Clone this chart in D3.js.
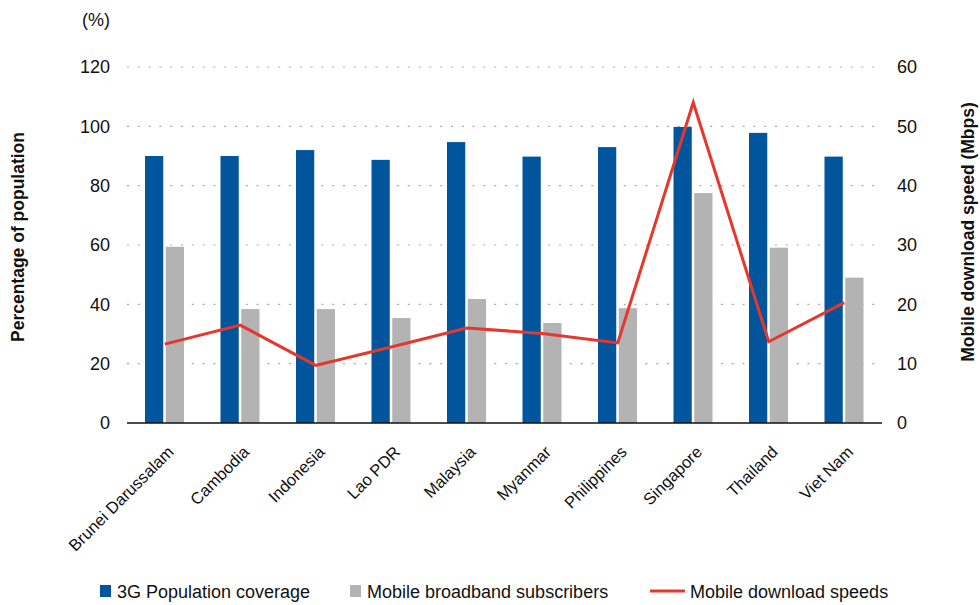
<!DOCTYPE html>
<html>
<head>
<meta charset="utf-8">
<script src="https://cdn.jsdelivr.net/npm/d3@7"></script>
<style>
	body { margin: 0; background: #fff; }
	svg text { font-family: "Liberation Sans", Arial, sans-serif; fill: #111; }
</style>
</head>
<body>
<svg id="chart" width="980" height="605"></svg>
<script>
// ASEAN mobile coverage chart: bars on left axis, download speed line on right axis

var countries = ['Brunei Darussalam', 'Cambodia', 'Indonesia', 'Lao PDR', 'Malaysia',
	'Myanmar', 'Philippines', 'Singapore', 'Thailand', 'Viet Nam'];
var coverage3G = [90, 90, 92, 88.7, 94.7, 89.8, 93, 99.8, 97.8, 89.8];
var broadband = [59.4, 38.4, 38.4, 35.4, 41.8, 33.7, 38.7, 77.5, 59.1, 49];
var downloadSpeed = [13.3, 16.5, 9.7, 12.8, 16, 15.1, 13.5, 54, 13.7, 20.3];
var leftTicks = [0, 20, 40, 60, 80, 100, 120];
var rightTicks = [0, 10, 20, 30, 40, 50, 60];
var seriesNames = ['3G Population coverage', 'Mobile broadband subscribers', 'Mobile download speeds'];

var colors = { cov: '#00559c', sub: '#b3b3b3', speed: '#e5372b' };

var svg = d3.select('#chart');
var plotLeft = 127, plotRight = 882, plotTop = 67, plotBottom = 423;

var x = d3.scaleBand().domain(countries).range([plotLeft, plotRight]);
var xs = d3.scaleBand().domain(['cov', 'sub']).range([18, 57]).paddingInner(0.12);
var y = d3.scaleLinear().domain([0, 120]).range([plotBottom, plotTop]);
var y2 = d3.scaleLinear().domain([0, 60]).range([plotBottom, plotTop]);

// dotted gridlines
svg.append('g').selectAll('line')
	.data(leftTicks.filter(function (d) { return d > 0; }))
	.enter().append('line')
	.attr('x1', plotLeft).attr('x2', plotRight - 2)
	.attr('y1', function (d) { return y(d); })
	.attr('y2', function (d) { return y(d); })
	.style('stroke', '#a8a8a8')
	.style('stroke-width', 1.2)
	.style('stroke-dasharray', '2,8.8');

// bars
var groups = svg.append('g').selectAll('g.country')
	.data(countries).enter().append('g')
	.attr('class', 'country')
	.attr('transform', function (d) { return 'translate(' + x(d) + ',0)'; });

groups.append('rect')
	.attr('x', xs('cov')).attr('width', xs.bandwidth())
	.attr('y', function (d, i) { return y(coverage3G[i]); })
	.attr('height', function (d, i) { return plotBottom - y(coverage3G[i]); })
	.style('fill', colors.cov);

groups.append('rect')
	.attr('x', xs('sub')).attr('width', xs.bandwidth())
	.attr('y', function (d, i) { return y(broadband[i]); })
	.attr('height', function (d, i) { return plotBottom - y(broadband[i]); })
	.style('fill', colors.sub);

// baseline
svg.append('line')
	.attr('x1', plotLeft).attr('x2', plotRight)
	.attr('y1', plotBottom).attr('y2', plotBottom)
	.style('stroke', '#111').style('stroke-width', 1.6);

// speed line
var line = d3.line()
	.x(function (d, i) { return x(countries[i]) + x.bandwidth() / 2; })
	.y(function (d) { return y2(d); });

svg.append('path')
	.datum(downloadSpeed)
	.attr('d', line)
	.style('fill', 'none')
	.style('stroke', colors.speed)
	.style('stroke-width', 3);

// axes (labels only)
var yAxis = d3.axisLeft(y).tickValues(leftTicks).tickSize(0).tickPadding(0);
var gy = svg.append('g').attr('transform', 'translate(110,0)').call(yAxis);
gy.select('.domain').remove();
gy.selectAll('text').style('font-size', '18px').style('font-family', '"Liberation Sans", Arial, sans-serif').attr('fill', '#111');

var yAxis2 = d3.axisRight(y2).tickValues(rightTicks).tickSize(0).tickPadding(0);
var gy2 = svg.append('g').attr('transform', 'translate(897,0)').call(yAxis2);
gy2.select('.domain').remove();
gy2.selectAll('text').style('font-size', '18px').style('font-family', '"Liberation Sans", Arial, sans-serif').attr('fill', '#111');

// category labels
svg.append('g').selectAll('text')
	.data(countries).enter().append('text')
	.attr('transform', function (d) {
		return 'translate(' + (x(d) + x.bandwidth() / 2 + 10) + ',' + (plotBottom + 30) + ') rotate(-45)';
	})
	.attr('text-anchor', 'end')
	.style('font-size', '16.5px')
	.text(function (d) { return d; });

// titles
svg.append('text').attr('x', 110).attr('y', 26)
	.attr('text-anchor', 'end').style('font-size', '18px')
	.text('(%)');

svg.append('text')
	.attr('transform', 'translate(24,' + 237 + ') rotate(-90)')
	.attr('text-anchor', 'middle')
	.style('font-size', '17.5px').style('font-weight', 'bold')
	.text('Percentage of population');

svg.append('text')
	.attr('transform', 'translate(974,' + 232 + ') rotate(-90)')
	.attr('text-anchor', 'middle')
	.style('font-size', '17.5px').style('font-weight', 'bold')
	.text('Mobile download speed (Mbps)');

// legend
var legendX = [100, 350, 650];
var legend = svg.append('g').selectAll('g')
	.data(seriesNames).enter().append('g')
	.attr('transform', function (d, i) { return 'translate(' + legendX[i] + ',591)'; });

legend.each(function (d, i) {
	var g = d3.select(this);
	if (i < 2) {
		g.append('rect').attr('x', 0).attr('y', -6).attr('width', 11).attr('height', 12)
			.style('fill', i === 0 ? colors.cov : colors.sub);
		g.append('text').attr('x', 17).attr('y', 6.5).style('font-size', '18px').text(d);
	} else {
		g.append('line').attr('x1', 0).attr('x2', 35).attr('y1', 0).attr('y2', 0)
			.style('stroke', colors.speed).style('stroke-width', 3);
		g.append('text').attr('x', 40).attr('y', 6.5).style('font-size', '18px').text(d);
	}
});
</script>
</body>
</html>
